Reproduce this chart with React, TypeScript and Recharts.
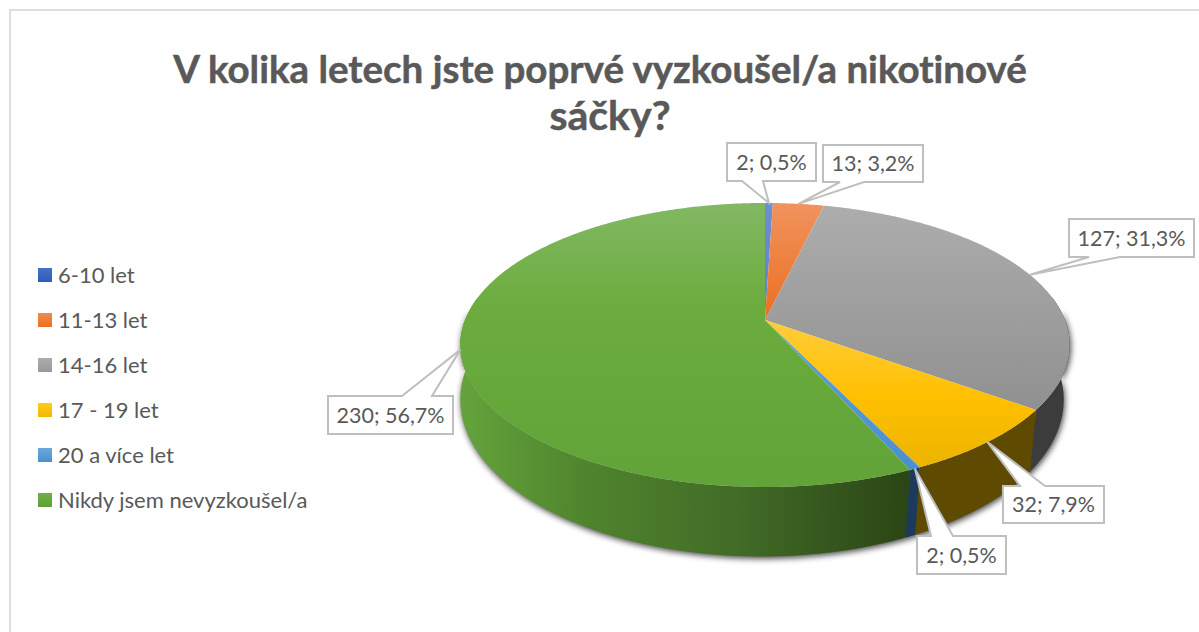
import React from 'react';
import { PieChart, Pie, Legend } from 'recharts';

const categories = ['6-10 let', '11-13 let', '14-16 let', '17 - 19 let', '20 a více let', 'Nikdy jsem nevyzkoušel/a'];
const counts = [2, 13, 127, 32, 2, 230];
const titleLines = ['V kolika letech jste poprvé vyzkoušel/a nikotinové', 'sáčky?'];

// styling tables (not data)
const topStops = [
  ['#6E8FD0', '#4472C4'],
  ['#F0935E', '#EC6F20'],
  ['#ADADAD', '#8F8F8F'],
  ['#FFCC3C', '#E9B200'],
  ['#6CA8DC', '#4A90D0'],
  ['#82B862', '#62A438'],
];
const legendStops = [
  ['#4472C4', '#2C5DBE'],
  ['#F08A50', '#EC6F20'],
  ['#ADADAD', '#989898'],
  ['#FFCB20', '#F2B800'],
  ['#6CA8DC', '#4A90D0'],
  ['#72B046', '#5F9F35'],
];
const wallColors = ['#1F3864', '#7A3A10', '#3C3C3C', '#5E4A00', '#1B3A5C', 'url(#wallGreen)'];
// callout boxes: x, y, w, h, wedge base start, wedge base end, wedge side
const callouts = [
  { x: 727, y: 143, w: 89, h: 38, b0: 742, b1: 763, side: 'bottom' },
  { x: 823, y: 145, w: 100, h: 37, b0: 840, b1: 864, side: 'bottom' },
  { x: 1069, y: 219, w: 125, h: 38, b0: 1089, b1: 1120, side: 'bottom' },
  { x: 1003, y: 486, w: 101, h: 37, b0: 1020, b1: 1045, side: 'top' },
  { x: 917, y: 536, w: 89, h: 38, b0: 931, b1: 953, side: 'top' },
  { x: 328, y: 396, w: 125, h: 38, b0: 402, b1: 432, side: 'top' },
];

const FONT = 'Lato, sans-serif';
const TEXT = '#595959';
const LEGEND_WIDTH = 330;
const total = counts.reduce((a, b) => a + b, 0);
const tableData = categories.map((name, i) => ({ name, value: counts[i], fill: `url(#top${i})` }));

// Perspective projection of the pie disc
const PERSPECTIVE = 0.176;
const Y_SCALE = 0.4587;
const BOTTOM_SCALE = 0.99;
const BOTTOM_Y_SCALE = 0.5067;
const BOTTOM_DROP = 52;
const BOTTOM_SHIFT = -3;

const rad = (d: number) => (d * Math.PI) / 180;
function rimTop(cx: number, cy: number, r: number, theta: number) {
  const u = Math.sin(rad(theta));
  const v = -Math.cos(rad(theta));
  const d = 1 - PERSPECTIVE * v;
  return [cx + (r * u) / d, cy + (r * Y_SCALE * v) / d];
}
function rimBottom(cx: number, cy: number, r: number, theta: number) {
  const u = Math.sin(rad(theta));
  const v = -Math.cos(rad(theta));
  const d = 1 - PERSPECTIVE * v;
  return [cx + BOTTOM_SHIFT + (r * BOTTOM_SCALE * u) / d, cy + BOTTOM_DROP + (r * BOTTOM_Y_SCALE * v) / d];
}
function sweep(a: number, b: number) {
  const n = Math.max(2, Math.ceil(Math.abs(b - a) * 2));
  return Array.from({ length: n + 1 }, (_, i) => a + ((b - a) * i) / n);
}
const pts = (list: number[][]) => list.map((p) => `${p[0].toFixed(2)},${p[1].toFixed(2)}`).join(' L');

function wallPath(cx: number, cy: number, r: number, a: number, b: number) {
  const t = sweep(a, b);
  return 'M' + pts(t.map((x) => rimTop(cx, cy, r, x))) + ' L' + pts(t.slice().reverse().map((x) => rimBottom(cx, cy, r, x))) + ' Z';
}

function Slice(props: any) {
  const { cx, cy, outerRadius: r, startAngle, endAngle, fill, name } = props;
  const a = 90 - startAngle;
  const b = 90 - endAngle;
  const i = categories.indexOf(name ?? props.payload?.name);
  const wa = Math.max(a, 80);
  const wb = Math.min(b, 280);
  return (
    <g>
      {i === 0 && <path d={wallPath(cx, cy, r, 86, 274)} fill="#000" opacity={0.75} filter="url(#blur)" transform="translate(1,2)" />}
      {wb > wa && <path d={wallPath(cx, cy, r, wa, wb)} fill={wallColors[i]} />}
      <path d={`M${cx},${cy} L` + pts(sweep(a, b).map((x) => rimTop(cx, cy, r, x))) + ' Z'} fill={fill} />
    </g>
  );
}

function Callout(props: any) {
  const { cx, cy, outerRadius: r, midAngle, index, value } = props;
  const c = callouts[index];
  const [tx, ty] = rimTop(cx, cy, r, 90 - midAngle);
  const pct = ((value / total) * 100).toFixed(1).replace('.', ',');
  const x1 = c.x + c.w;
  const y1 = c.y + c.h;
  const d =
    c.side === 'bottom'
      ? `M${c.x},${c.y} H${x1} V${y1} H${c.b1} L${tx},${ty} L${c.b0},${y1} H${c.x} Z`
      : `M${c.x},${c.y} H${c.b0} L${tx},${ty} L${c.b1},${c.y} H${x1} V${y1} H${c.x} Z`;
  return (
    <g>
      <path d={d} fill="#fff" stroke="#BFBFBF" strokeWidth={2} />
      <text x={c.x + c.w / 2} y={c.y + c.h / 2 + 7.5} textAnchor="middle" fontFamily={FONT} fontSize={21.5} fill={TEXT} style={{ fontVariantLigatures: 'none' }}>
        {`${value}; ${pct}%`}
      </text>
    </g>
  );
}

function LegendList({ payload }: any) {
  return (
    <div style={{ fontFamily: FONT, fontSize: 22, color: TEXT, fontVariantLigatures: 'none' }}>
      {(payload ?? []).map((p: any, i: number) => (
        <div key={i} style={{ height: 45, display: 'flex', alignItems: 'center' }}>
          <span
            style={{
              width: 14,
              height: 14,
              marginRight: 6,
              background: `linear-gradient(${legendStops[i][0]}, ${legendStops[i][1]})`,
            }}
          />
          <span>{p.value}</span>
        </div>
      ))}
    </div>
  );
}

export default function App() {
  return (
    <div style={{ position: 'absolute', left: 0, top: 0, width: 1199, height: 632, overflow: 'hidden', background: '#fff' }}>
      <PieChart width={1199} height={632} margin={{ top: 0, right: 0, bottom: 0, left: 0 }}>
        <defs>
          {topStops.map((s, i) => (
            <linearGradient key={i} id={`top${i}`} gradientUnits="userSpaceOnUse" x1="0" y1={i === 3 ? 320 : 203} x2="0" y2={i === 1 ? 320 : i === 3 ? 475 : i === 2 ? 420 : 470}>
              <stop offset="0" stopColor={s[0]} />
              {i === 3 && <stop offset="0.5" stopColor="#FFC000" />}
              {i === 5 && <stop offset="0.4" stopColor="#6CAC3E" />}
              <stop offset="1" stopColor={s[1]} />
            </linearGradient>
          ))}
          <linearGradient id="wallGreen" gradientUnits="userSpaceOnUse" x1="460" y1="0" x2="915" y2="0">
            <stop offset="0" stopColor="#64A43C" />
            <stop offset="0.28" stopColor="#4F842D" />
            <stop offset="0.6" stopColor="#426C27" />
            <stop offset="1" stopColor="#2A4415" />
          </linearGradient>
          <filter id="blur" x="-10%" y="-20%" width="120%" height="140%">
            <feGaussianBlur stdDeviation="3" />
          </filter>
        </defs>
        <path d="M1199,10 H10 V632" fill="none" stroke="#DEDEDE" strokeWidth={2} />
        {titleLines.map((line, i) => (
          <text key={i} x={i === 0 ? 600 : 610} y={83 + i * 47} textAnchor="middle" fontFamily={FONT} fontWeight={700} fontSize={i === 0 ? 38.5 : 41} fill={TEXT} stroke={TEXT} strokeWidth={0.5} style={{ fontVariantLigatures: 'none' }}>
            {line}
          </text>
        ))}
        <Pie
          data={tableData}
          dataKey="value"
          nameKey="name"
          cx={765 - LEGEND_WIDTH}
          cy={320}
          outerRadius={300}
          startAngle={90}
          endAngle={-270}
          stroke="none"
          shape={Slice}
          label={Callout}
          labelLine={false}
          isAnimationActive={false}
        />
        <Legend
          layout="vertical"
          align="left"
          verticalAlign="top"
          itemSorter={null}
          content={LegendList}
          wrapperStyle={{ position: 'absolute', left: 38, top: 252, width: LEGEND_WIDTH }}
        />
      </PieChart>
    </div>
  );
}
